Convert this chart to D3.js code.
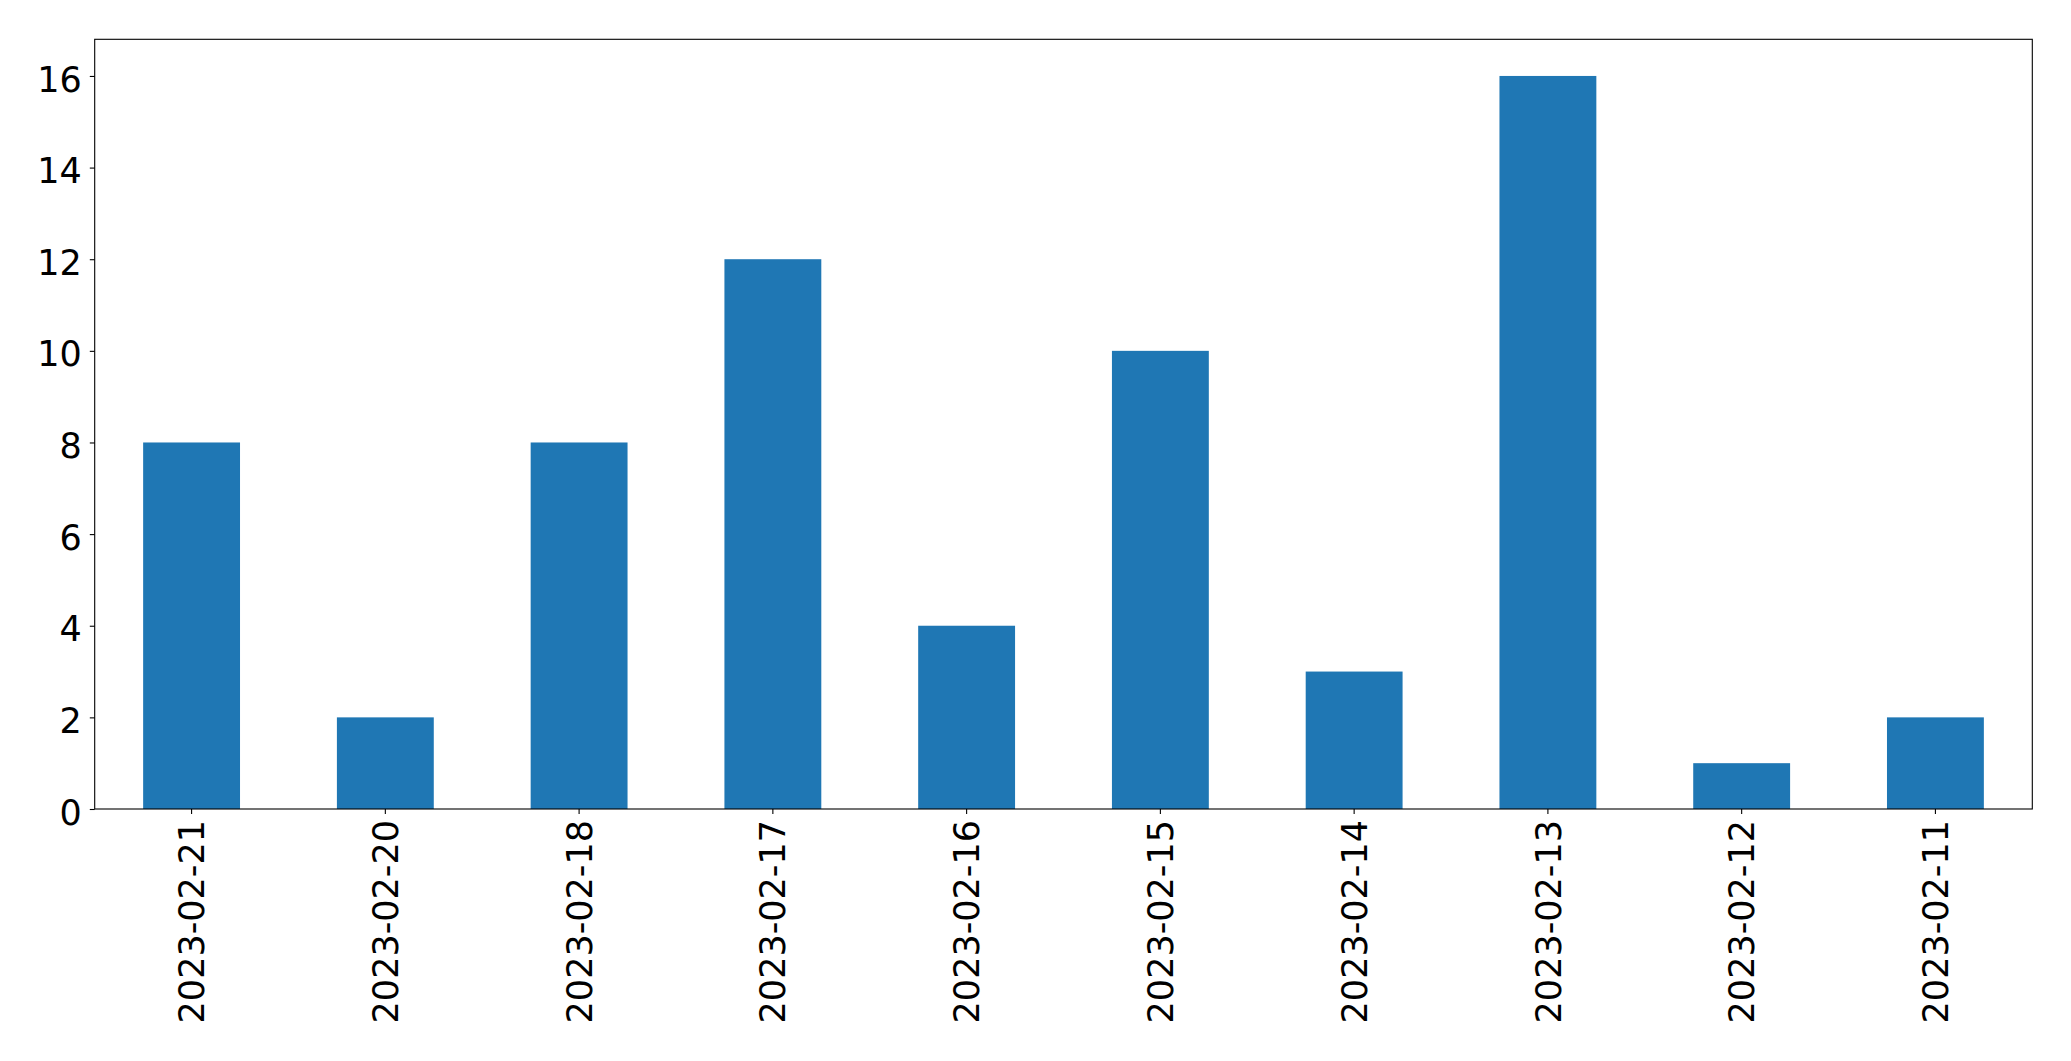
<!DOCTYPE html>
<html>
<head>
<meta charset="utf-8">
<script src="https://cdn.jsdelivr.net/npm/d3@7"></script>
<style>
  html, body { margin: 0; padding: 0; background: #fff; }
  svg { display: block; }
  text { font-family: "DejaVu Sans", sans-serif; fill: #000; }
</style>
</head>
<body>
<svg id="chart" width="2071" height="1061"></svg>
<script>
const categories = ["2023-02-21","2023-02-20","2023-02-18","2023-02-17","2023-02-16","2023-02-15","2023-02-14","2023-02-13","2023-02-12","2023-02-11"];
const values = [8, 2, 8, 12, 4, 10, 3, 16, 1, 2];
const yTicks = [0, 2, 4, 6, 8, 10, 12, 14, 16];

const svg = d3.select("#chart");
const L = 94.7, R = 2032.3, T = 39.3, B = 809;
const fontSize = 35;

const x = d3.scaleBand().domain(categories).range([L, R]).paddingInner(0.5).paddingOuter(0.25);
const y = d3.scaleLinear().domain([0, 16.8]).range([B, T]);

svg.append("g").selectAll("rect").data(values).join("rect")
  .attr("x", (d, i) => x(categories[i]))
  .attr("width", x.bandwidth())
  .attr("y", d => y(d))
  .attr("height", d => y(0) - y(d))
  .attr("fill", "#1f77b4");

// frame
svg.append("rect").attr("x", L).attr("y", T).attr("width", R - L).attr("height", B - T)
  .attr("fill", "none").attr("stroke", "#000").attr("stroke-width", 1.1);

// y axis
const yAxis = svg.append("g").attr("transform", `translate(${L},0)`)
  .call(d3.axisLeft(y).tickValues(yTicks).tickFormat(d3.format("d")).tickSize(4.9).tickPadding(8));
yAxis.select(".domain").remove();
yAxis.selectAll(".tick line").attr("stroke", "#000").attr("stroke-width", 1.1);
yAxis.selectAll(".tick text").attr("font-size", fontSize).attr("font-family", "DejaVu Sans")
  .attr("dy", "0.43em").attr("fill", "#000");

// x axis
const xAxis = svg.append("g").attr("transform", `translate(0,${B})`)
  .call(d3.axisBottom(x).tickSize(4.9).tickPadding(0));
xAxis.select(".domain").remove();
xAxis.selectAll(".tick line").attr("stroke", "#000").attr("stroke-width", 1.1);
xAxis.selectAll(".tick text")
  .attr("font-size", fontSize).attr("font-family", "DejaVu Sans").attr("fill", "#000")
  .attr("text-anchor", "end")
  .attr("transform", "translate(0,11) rotate(-90)")
  .attr("x", 0).attr("y", 0).attr("dy", "0.36em");
</script>
</body>
</html>
